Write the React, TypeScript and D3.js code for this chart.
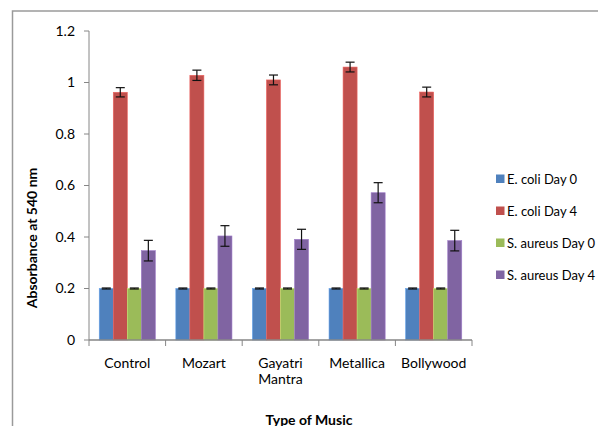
import React, { useEffect, useRef } from 'react';
import * as d3 from 'd3';

const categories = ['Control', 'Mozart', 'Gayatri Mantra', 'Metallica', 'Bollywood'];
const seriesNames = ['E. coli Day 0', 'E. coli Day 4', 'S. aureus Day 0', 'S. aureus Day 4'];
const seriesColors = ['#4F81BD', '#C0504D', '#9BBB59', '#8064A2'];

const ecoliDay0 = [0.2, 0.2, 0.2, 0.2, 0.2];
const ecoliDay4 = [0.962, 1.028, 1.01, 1.06, 0.963];
const aureusDay0 = [0.2, 0.2, 0.2, 0.2, 0.2];
const aureusDay4 = [0.347, 0.404, 0.391, 0.572, 0.386];

const ecoliDay0Err = [0.002, 0.002, 0.002, 0.002, 0.002];
const ecoliDay4Err = [0.018, 0.02, 0.019, 0.019, 0.019];
const aureusDay0Err = [0.002, 0.002, 0.002, 0.002, 0.002];
const aureusDay4Err = [0.04, 0.04, 0.039, 0.039, 0.04];

const yTicks = [0, 0.2, 0.4, 0.6, 0.8, 1, 1.2];

const FONT = 'Lato, "Open Sans", sans-serif';
const FS = '14px';

const App: React.FC = () => {
  const svgRef = useRef<SVGSVGElement>(null);

  useEffect(() => {
    if (!svgRef.current) return;
    const width = 606;
    const height = 434;
    const svg = d3.select(svgRef.current);
    svg.selectAll('*').remove();
    svg.attr('width', width).attr('height', height);

    svg.append('rect').attr('width', width).attr('height', height).attr('fill', '#fff');

    // chart frame (runs off the bottom/right of the picture)
    svg.append('path')
      .attr('d', `M12.5,${height + 2} V11 H${width + 2}`)
      .attr('fill', 'none')
      .attr('stroke', '#9a9a9a')
      .attr('stroke-width', 1.5);

    const left = 89;
    const right = 472;
    const top = 31;
    const bottom = 340;

    const x = d3.scaleBand<string>().domain(categories).range([left, right]).paddingInner(0).paddingOuter(0);
    const x1 = d3.scaleBand<number>().domain(d3.range(seriesNames.length))
      .range([0, x.bandwidth()]).paddingOuter(0.73).paddingInner(0);
    const y = d3.scaleLinear().domain([0, 1.2]).range([bottom, top]);

    const values = [ecoliDay0, ecoliDay4, aureusDay0, aureusDay4];
    const errs = [ecoliDay0Err, ecoliDay4Err, aureusDay0Err, aureusDay4Err];

    // bars
    values.forEach((vals, si) => {
      const g = svg.append('g');
      g.selectAll('rect')
        .data(vals)
        .join('rect')
        .attr('x', (_, i) => (x(categories[i]) as number) + (x1(si) as number))
        .attr('y', d => y(d))
        .attr('width', x1.bandwidth())
        .attr('height', d => y(0) - y(d))
        .attr('fill', seriesColors[si])
        .attr('stroke', d3.color(seriesColors[si])!.brighter(0.6).toString())
        .attr('stroke-width', 0.6);
    });

    // error bars
    values.forEach((vals, si) => {
      vals.forEach((v, i) => {
        const cx = (x(categories[i]) as number) + (x1(si) as number) + x1.bandwidth() / 2;
        const e = errs[si][i];
        const g = svg.append('g').attr('stroke', '#111').attr('stroke-width', 1.2);
        g.append('line').attr('x1', cx).attr('x2', cx).attr('y1', y(v + e)).attr('y2', y(v - e));
        g.append('line').attr('x1', cx - 4.5).attr('x2', cx + 4.5).attr('y1', y(v + e)).attr('y2', y(v + e));
        g.append('line').attr('x1', cx - 4.5).attr('x2', cx + 4.5).attr('y1', y(v - e)).attr('y2', y(v - e));
      });
    });

    // y axis
    const axisColor = '#868686';
    svg.append('line').attr('x1', left).attr('x2', left).attr('y1', top).attr('y2', bottom)
      .attr('stroke', axisColor).attr('stroke-width', 1);
    yTicks.forEach(t => {
      svg.append('line').attr('x1', left - 5).attr('x2', left).attr('y1', y(t)).attr('y2', y(t))
        .attr('stroke', axisColor);
      svg.append('text')
        .attr('x', 75)
        .attr('y', y(t))
        .attr('dy', '0.35em')
        .attr('text-anchor', 'end')
        .style('font-family', FONT)
        .style('font-size', FS)
        .attr('fill', '#000')
        .text(String(t));
    });

    // x axis
    svg.append('line').attr('x1', left).attr('x2', right).attr('y1', bottom).attr('y2', bottom)
      .attr('stroke', axisColor).attr('stroke-width', 1.5);
    const edges = [left, ...categories.map(c => (x(c) as number) + x.bandwidth())];
    edges.forEach(ex => {
      svg.append('line').attr('x1', ex).attr('x2', ex).attr('y1', bottom).attr('y2', bottom + 6)
        .attr('stroke', axisColor);
    });
    categories.forEach(c => {
      const cx = (x(c) as number) + x.bandwidth() / 2;
      const lines = c === 'Gayatri Mantra' ? ['Gayatri', 'Mantra'] : [c];
      lines.forEach((ln, li) => {
        svg.append('text')
          .attr('x', cx)
          .attr('y', 368 + li * 16)
          .attr('text-anchor', 'middle')
          .style('font-family', FONT)
          .style('font-size', FS)
          .attr('fill', '#000')
          .text(ln);
      });
    });

    // axis titles
    svg.append('text')
      .attr('x', 309)
      .attr('y', 425)
      .attr('text-anchor', 'middle')
      .style('font-family', FONT)
      .style('font-size', FS)
      .style('font-weight', 'bold')
      .text('Type of Music');

    svg.append('text')
      .attr('transform', 'translate(37,238) rotate(-90)')
      .attr('text-anchor', 'middle')
      .style('font-family', FONT)
      .style('font-size', FS)
      .style('font-weight', 'bold')
      .text('Absorbance at 540 nm');

    // legend
    seriesNames.forEach((name, si) => {
      const ly = 179 + si * 32;
      svg.append('rect')
        .attr('x', 496)
        .attr('y', ly - 4.5)
        .attr('width', 8.5)
        .attr('height', 8.5)
        .attr('fill', seriesColors[si]);
      svg.append('text')
        .attr('x', 507)
        .attr('y', ly)
        .attr('dy', '0.35em')
        .style('font-family', FONT)
        .style('font-size', '13px')
        .attr('fill', '#000')
        .text(name);
    });
  }, []);

  return (
    <div style={{ margin: -8, overflow: 'hidden' }}>
      <svg ref={svgRef} style={{ display: 'block' }} />
    </div>
  );
};

export default App;
